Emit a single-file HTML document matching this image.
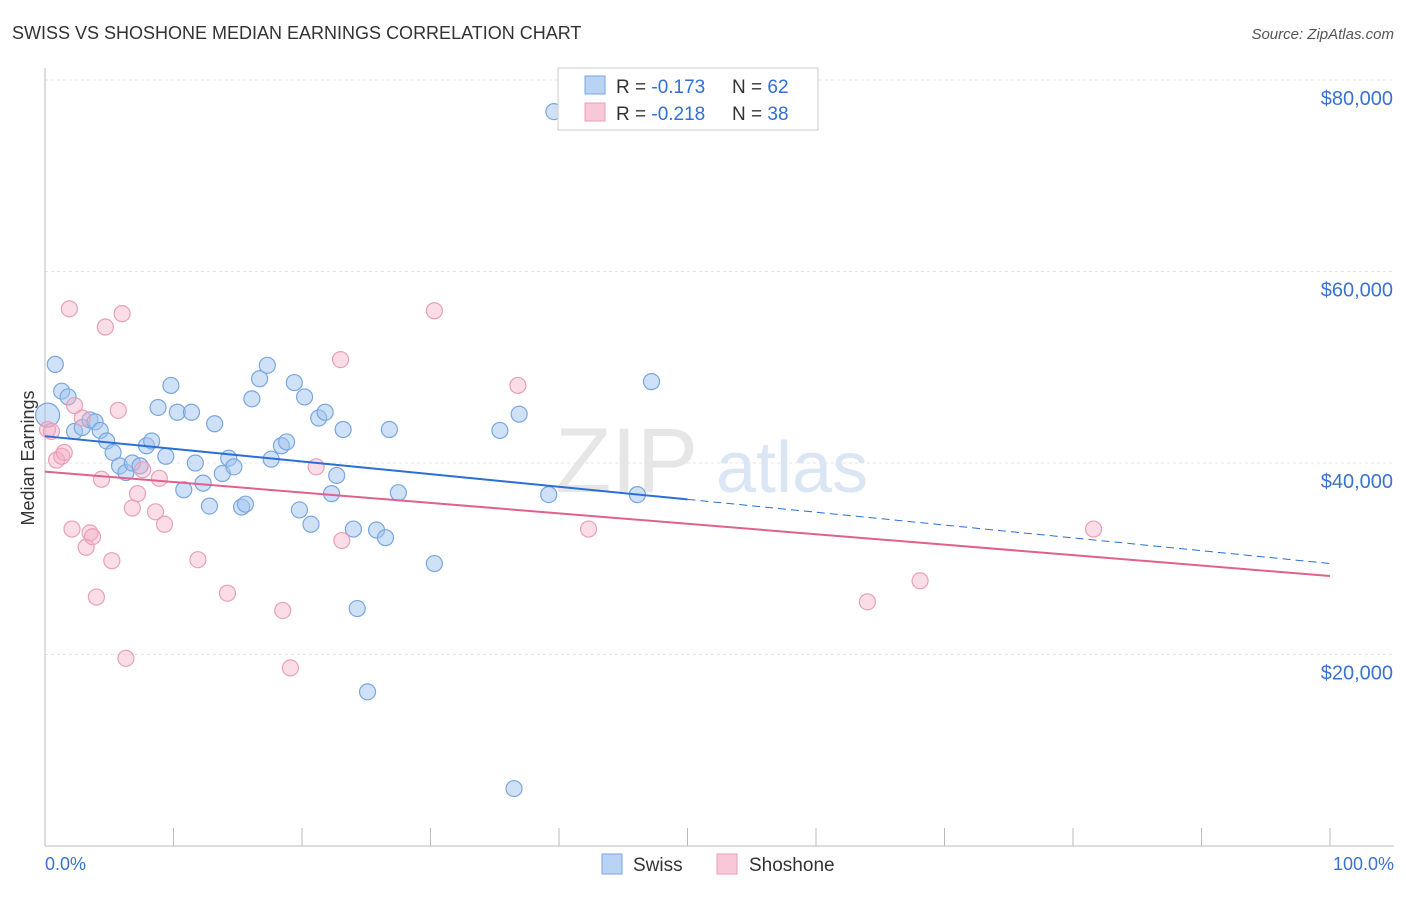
<!DOCTYPE html>
<html><head><meta charset="utf-8">
<style>
body{margin:0;background:#fff;font-family:"Liberation Sans",sans-serif;}
svg text{font-family:"Liberation Sans",sans-serif;}
</style></head>
<body>
<svg id="chart" width="1406" height="892" xmlns="http://www.w3.org/2000/svg">
<text x="12" y="39" font-size="18" fill="#333">SWISS VS SHOSHONE MEDIAN EARNINGS CORRELATION CHART</text>
<text x="1394" y="39" font-size="15" fill="#555" text-anchor="end" font-style="italic">Source: ZipAtlas.com</text>
<g id="grid"></g>
<text x="555" y="492" font-size="92" fill="#e6e6e6" font-family="Liberation Serif">ZIP</text>
<text x="716" y="492" font-size="72" fill="#dbe6f5">atlas</text>
<g id="marks"></g>
<text transform="translate(34,458) rotate(-90)" font-size="18" fill="#333" text-anchor="middle">Median Earnings</text>
<text x="45" y="870" font-size="18" fill="#3a72d0">0.0%</text>
<text x="1394" y="870" font-size="18" fill="#3a72d0" text-anchor="end">100.0%</text>
<g>
<rect x="558" y="68" width="260" height="62" fill="#fff" stroke="#ccc"/>
<rect x="585" y="76" width="20" height="18" fill="#b9d3f4" stroke="#7aa6e0"/>
<rect x="585" y="103" width="20" height="18" fill="#f9c8d8" stroke="#e8a0b8"/>
<text x="616" y="93" font-size="19" fill="#333">R = <tspan fill="#2f6fd6">-0.173</tspan></text>
<text x="732" y="93" font-size="19" fill="#333">N = <tspan fill="#2f6fd6">62</tspan></text>
<text x="616" y="120" font-size="19" fill="#333">R = <tspan fill="#2f6fd6">-0.218</tspan></text>
<text x="732" y="120" font-size="19" fill="#333">N = <tspan fill="#2f6fd6">38</tspan></text>
</g>
<g>
<rect x="602" y="854" width="20" height="20" fill="#b9d3f4" stroke="#7aa6e0"/>
<text x="633" y="871" font-size="19" fill="#333">Swiss</text>
<rect x="717" y="854" width="20" height="20" fill="#f9c8d8" stroke="#e8a0b8"/>
<text x="749" y="871" font-size="19" fill="#333">Shoshone</text>
</g>
</svg>
<script>
const yTicks=[20000,40000,60000,80000];
const yTickLabels=["$20,000","$40,000","$60,000","$80,000"];
const swissX=[0.2,0.8,1.3,1.8,2.3,2.9,3.5,3.9,4.3,4.8,5.3,5.8,6.3,6.8,7.4,7.9,8.3,8.8,9.4,9.8,10.3,10.8,11.4,11.7,12.3,12.8,13.2,13.8,14.3,14.7,15.3,15.6,16.1,16.7,17.3,17.6,18.4,18.8,19.4,19.8,20.2,20.7,21.3,21.8,22.3,22.7,23.2,24.0,24.3,25.1,25.8,26.5,26.8,27.5,30.3,35.4,36.5,36.9,39.2,39.6,46.1,47.2];
const swissY=[45000,50300,47500,46900,43300,43700,44500,44300,43400,42300,41100,39700,39000,40000,39700,41800,42300,45800,40700,48100,45300,37200,45300,40000,37900,35500,44100,38900,40500,39600,35400,35700,46700,48800,50200,40400,41800,42200,48400,35100,46900,33600,44700,45300,36800,38700,43500,33100,24800,16100,33000,32200,43500,36900,29500,43400,6000,45100,36700,76700,36700,48500];
const shoX=[0.2,0.5,0.9,1.3,1.5,1.9,2.1,2.3,2.9,3.2,3.5,3.7,4.0,4.4,4.7,5.2,5.7,6.0,6.3,6.8,7.2,7.6,8.6,8.9,9.3,11.9,14.2,18.5,19.1,21.1,23.0,23.1,30.3,36.8,42.3,64.0,68.1,81.6];
const shoY=[43500,43300,40300,40700,41100,56100,33100,46000,44700,31200,32700,32300,26000,38300,54200,29800,45500,55600,19600,35300,36800,39300,34900,38400,33600,29900,26400,24600,18600,39600,50800,31900,55900,48100,33100,25500,27700,33100];
const swissLine=[[0,42800],[50,36200],[100,29500]];
const shoLine=[[0,39100],[100,28200]];
const NS="http://www.w3.org/2000/svg";
const X=p=>45+p/100*1285, Y=v=>846-v/80000*766;
const grid=document.getElementById('grid'), marks=document.getElementById('marks');
function mk(tag,attrs,parent){const e=document.createElementNS(NS,tag);for(const k in attrs)e.setAttribute(k,attrs[k]);parent.appendChild(e);return e;}
yTicks.forEach((t,i)=>{
 const l=mk('line',{x1:45,x2:1394,y1:Y(t),y2:Y(t),stroke:'#e4e4e4','stroke-dasharray':'3,3'},grid);
 
 
 const tx=mk('text',{x:1393,y:Y(t)+25,'font-size':20,fill:'#3a72d0','text-anchor':'end'},grid);
 tx.textContent=yTickLabels[i];
 
 
});
const ax=mk('line',{x1:45,x2:1394,y1:846,y2:846,stroke:'#bbb'},grid);


const ay=mk('line',{x1:45,x2:45,y1:68,y2:846,stroke:'#bbb'},grid);


for(let i=0;i<=10;i++){const t=mk('line',{x1:X(i*10),x2:X(i*10),y1:828,y2:846,stroke:'#bbb'},grid);
 
 }
swissX.forEach((x,i)=>{const c=mk('circle',{cx:X(x),cy:Y(swissY[i]),r:i==0?12:8,fill:'rgba(160,196,240,0.5)',stroke:'#7aa6e0','stroke-width':1.2},marks);
 
 });
shoX.forEach((x,i)=>{const c=mk('circle',{cx:X(x),cy:Y(shoY[i]),r:8,fill:'rgba(245,170,195,0.4)',stroke:'#e8a0b8','stroke-width':1.2},marks);
 
 });
const s1=mk('line',{x1:X(swissLine[0][0]),y1:Y(swissLine[0][1]),x2:X(swissLine[1][0]),y2:Y(swissLine[1][1]),stroke:'#2a6fd6','stroke-width':2},marks);


const s2=mk('line',{x1:X(swissLine[1][0]),y1:Y(swissLine[1][1]),x2:X(swissLine[2][0]),y2:Y(swissLine[2][1]),stroke:'#2a6fd6','stroke-width':1,'stroke-dasharray':'8,5'},marks);


const s3=mk('line',{x1:X(shoLine[0][0]),y1:Y(shoLine[0][1]),x2:X(shoLine[1][0]),y2:Y(shoLine[1][1]),stroke:'#e0608e','stroke-width':2},marks);


</script>
</body></html>
